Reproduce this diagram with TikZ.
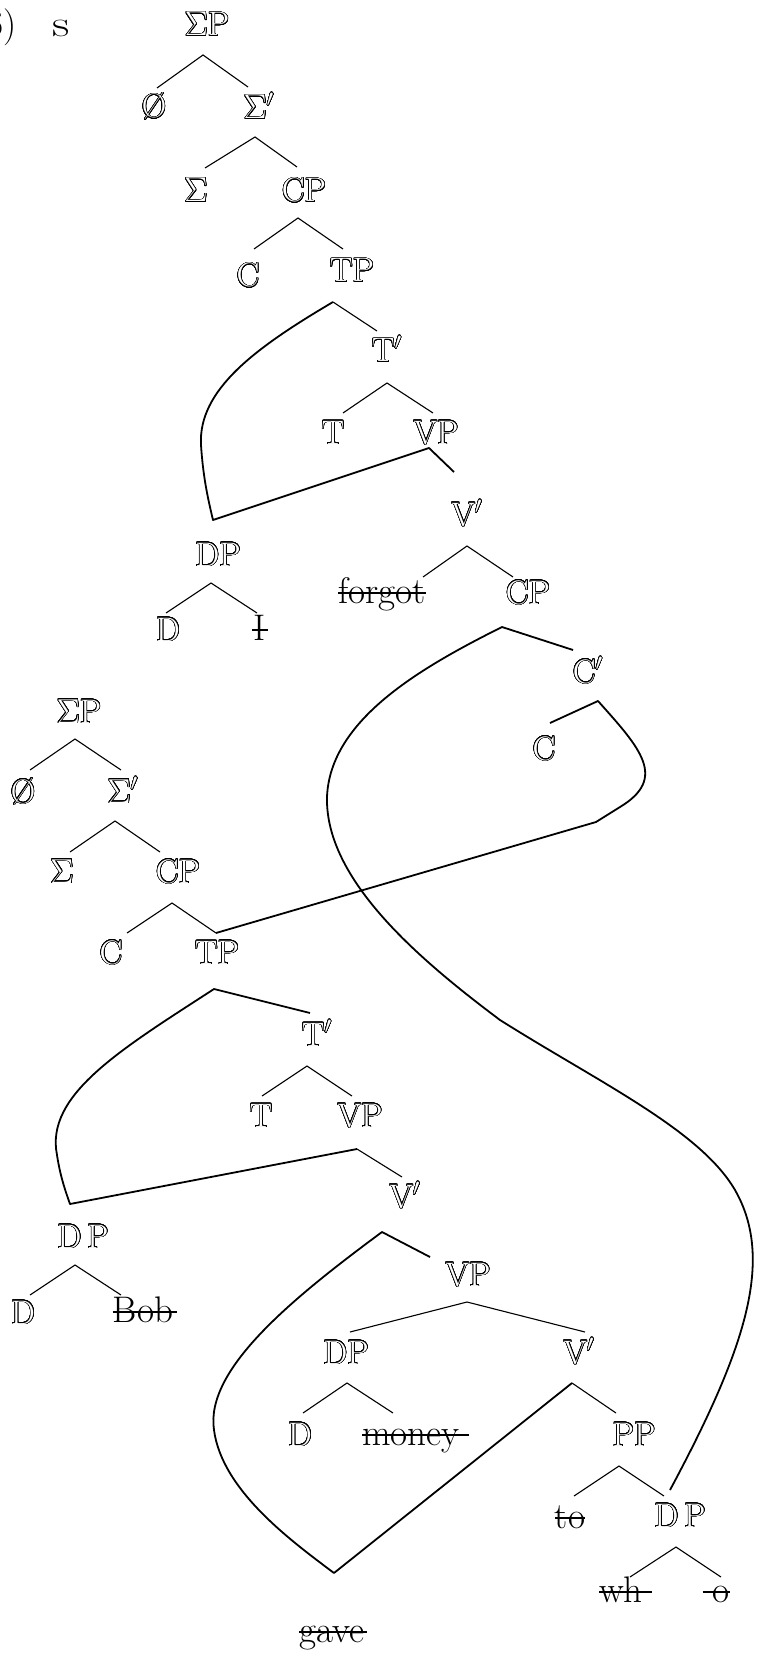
\documentclass[tikz,border=0pt]{standalone}
\usepackage{graphicx}
\usepackage{contour}
\contourlength{0.32pt}
\contournumber{32}
\newcommand\ot[1]{\contour{black}{\textcolor{white}{#1}}}
\newcommand\strk[3][0pt]{\leavevmode\setbox0\hbox{\fontsize{18.5}{22}\selectfont #3}\rlap{\kern-#1\rule[4.5pt]{\dimexpr\wd0+#1+#2\relax}{0.85pt}}\box0}
\tikzset{
  lab/.style={inner sep=0pt, anchor=base},
  br/.style={line width=0.55pt},
  mv/.style={line width=0.9pt, line join=round},
}
\begin{document}
\begin{tikzpicture}[x=0.5pt,y=-0.5pt,font=\fontsize{17}{20}\selectfont]
\useasboundingbox (0,0) rectangle (760,1658);
% ---------- tree 1 ----------
\node[lab,anchor=base east] (six) at (17,37) {\fontsize{18.5}{22}\selectfont (6)};
\node[lab] (s) at (61,37) {\fontsize{18.5}{22}\selectfont\scalebox{1.3}[1]{s}};
\node[lab] (a1) at (207,36) {\ot{$\Sigma$P}};
\node[lab] (a2) at (154,118) {\ot{\O}};
\node[lab] (a3) at (259,119) {\ot{$\Sigma'$}};
\node[lab] (a4) at (196,202) {\ot{$\Sigma$}};
\node[lab] (a5) at (304,202) {\ot{CP}};
\node[lab] (a6) at (248,287) {\ot{C}};
\node[lab] (a7) at (352,282) {\ot{TP}};
\node[lab] (a8) at (387,362) {\ot{T$'$}};
\node[lab] (a9) at (333,444) {\ot{T}};
\node[lab] (a10) at (436,444) {\ot{VP}};
\node[lab] (a11) at (467,526) {\ot{V$'$}};
\node[lab] (a12) at (218,566) {\ot{DP}};
\node[lab] (a13) at (168,641) {\ot{D}};
\node[lab] (a14) at (260,640) {\strk[1pt]{1pt}{I}};
\node[lab] (a15) at (382,603) {\strk{0pt}{forgot}};
\node[lab] (a16) at (528,604) {\ot{CP}};
\node[lab] (a17) at (588,683) {\ot{C$'$}};
\node[lab] (a18) at (544,760) {\ot{C}};
% ---------- tree 2 ----------
\node[lab] (b1) at (79,723) {\ot{$\Sigma$P}};
\node[lab] (b2) at (23,803) {\ot{\O}};
\node[lab] (b3) at (123,803) {\ot{$\Sigma'$}};
\node[lab] (b4) at (62,883) {\ot{$\Sigma$}};
\node[lab] (b5) at (178,883) {\ot{CP}};
\node[lab] (b6) at (111,964) {\ot{C}};
\node[lab] (b7) at (217,964) {\ot{TP}};
\node[lab] (b8) at (317,1046) {\ot{T$'$}};
\node[lab] (b9) at (261,1127) {\ot{T}};
\node[lab] (b10) at (360,1127) {\ot{VP}};
\node[lab] (b11) at (405,1208) {\ot{V$'$}};
\node[lab] (b12) at (83,1248) {\ot{D\,P}};
\node[lab] (b13) at (23,1324) {\ot{D}};
\node[lab] (b14) at (143,1322) {\strk{2pt}{Bob}};
\node[lab] (b15) at (468,1286) {\ot{VP}};
\node[lab] (b16) at (346,1364) {\ot{DP}};
\node[lab] (b17) at (579,1364) {\ot{V$'$}};
\node[lab] (b18) at (300,1446) {\ot{D}};
\node[lab] (b19) at (411,1445) {\strk{4.5pt}{money}};
\node[lab] (b20) at (634,1446) {\ot{PP}};
\node[lab] (b21) at (570,1528) {\strk{0pt}{to}};
\node[lab] (b22) at (680,1527) {\ot{D\,P}};
\node[lab] (b23) at (621,1602) {\strk{4.5pt}{wh}};
\node[lab] (b24) at (721,1602) {\strk[5pt]{0pt}{o}};
\node[lab] (b25) at (332,1642) {\strk{1pt}{gave}};
% ---------- branch coordinates ----------
\coordinate (a1d) at (203,55);  \coordinate (a2u) at (157,88);  \coordinate (a3u) at (248,87);
\coordinate (a3d) at (255,137); \coordinate (a4u) at (205,168); \coordinate (a5u) at (297,167);
\coordinate (a5d) at (298,218); \coordinate (a6u) at (254,249); \coordinate (a7u) at (343,249);
\coordinate (a7d) at (333,302); \coordinate (a8u) at (377,331);
\coordinate (a8d) at (387,383); \coordinate (a9u) at (343,413); \coordinate (a10u) at (433,413);
\coordinate (a10d) at (429,448); \coordinate (a11u) at (454,472);
\coordinate (a12t) at (213,520);
\coordinate (a11d) at (467,546); \coordinate (a15u) at (423,577); \coordinate (a16u) at (513,577);
\coordinate (a12d) at (211,583); \coordinate (a13u) at (166,613); \coordinate (a14u) at (257,613);
\coordinate (a16d) at (502,627); \coordinate (a17u) at (573,650);
\coordinate (a17d) at (598,701); \coordinate (a18u) at (550,723);
\coordinate (a18t) at (596,822);
\coordinate (b1d) at (75,739);  \coordinate (b2u) at (30,770);  \coordinate (b3u) at (121,770);
\coordinate (b3d) at (115,821); \coordinate (b4u) at (70,852);  \coordinate (b5u) at (160,852);
\coordinate (b5d) at (172,903); \coordinate (b6u) at (127,933); \coordinate (b7u) at (216,933);
\coordinate (b7d) at (214,989); \coordinate (b8u) at (310,1013);
\coordinate (b8d) at (307,1066); \coordinate (b9u) at (262,1096); \coordinate (b10u) at (352,1096);
\coordinate (b10d) at (357,1149); \coordinate (b11u) at (402,1177);
\coordinate (b12t) at (70,1204);
\coordinate (b11d) at (382,1232); \coordinate (b15u) at (430,1257);
\coordinate (b12d) at (75,1265); \coordinate (b13u) at (30,1295); \coordinate (b14u) at (121,1295);
\coordinate (b15d) at (467,1302); \coordinate (b16u) at (350,1332); \coordinate (b17u) at (585,1332);
\coordinate (b16d) at (347,1383); \coordinate (b18u) at (303,1413); \coordinate (b19u) at (393,1413);
\coordinate (b17d) at (572,1383); \coordinate (b20u) at (616,1413);
\coordinate (b25t) at (334,1573);
\coordinate (b20d) at (619,1466); \coordinate (b21u) at (574,1496); \coordinate (b22u) at (664,1496);
\coordinate (b22t) at (670,1490);
\coordinate (b22d) at (676,1547); \coordinate (b23u) at (630,1577); \coordinate (b24u) at (721,1577);
% ---------- ordinary branches ----------
\draw[br] (a2u) -- (a1d) -- (a3u);
\draw[br] (a4u) -- (a3d) -- (a5u);
\draw[br] (a6u) -- (a5d) -- (a7u);
\draw[br] (a7d) -- (a8u);
\draw[br] (a9u) -- (a8d) -- (a10u);
\draw[br] (a15u) -- (a11d) -- (a16u);
\draw[br] (a13u) -- (a12d) -- (a14u);
\draw[br] (b2u) -- (b1d) -- (b3u);
\draw[br] (b4u) -- (b3d) -- (b5u);
\draw[br] (b6u) -- (b5d) -- (b7u);
\draw[br] (b9u) -- (b8d) -- (b10u);
\draw[br] (b10d) -- (b11u);
\draw[br] (b13u) -- (b12d) -- (b14u);
\draw[br] (b16u) -- (b15d) -- (b17u);
\draw[br] (b18u) -- (b16d) -- (b19u);
\draw[br] (b17d) -- (b20u);
\draw[br] (b21u) -- (b20d) -- (b22u);
\draw[br] (b23u) -- (b22d) -- (b24u);
% ---------- movement lines ----------
\draw[mv] (a7d) .. controls (255,348) and (198,390) .. (201,445) .. controls (203,475) and (207,495) .. (a12t) -- (a10d) -- (a11u);
\draw[mv] (a17u) -- (a16d) .. controls (420,668) and (330,720) .. (327,797) .. controls (325,880) and (420,960) .. (500,1020) .. controls (600,1083) and (700,1130) .. (735,1190) .. controls (775,1260) and (745,1350) .. (b22t);
\draw[mv] (a18u) -- (a17d) .. controls (640,748) and (668,778) .. (620,807) -- (a18t) -- (b7u);
\draw[mv] (b8u) -- (b7d) .. controls (120,1050) and (45,1095) .. (57,1155) .. controls (60,1175) and (65,1190) .. (b12t) -- (b10d);
\draw[mv] (b15u) -- (b11d) .. controls (290,1300) and (205,1370) .. (214,1430) .. controls (222,1490) and (290,1540) .. (b25t) -- (b17d);
\end{tikzpicture}
\end{document}
